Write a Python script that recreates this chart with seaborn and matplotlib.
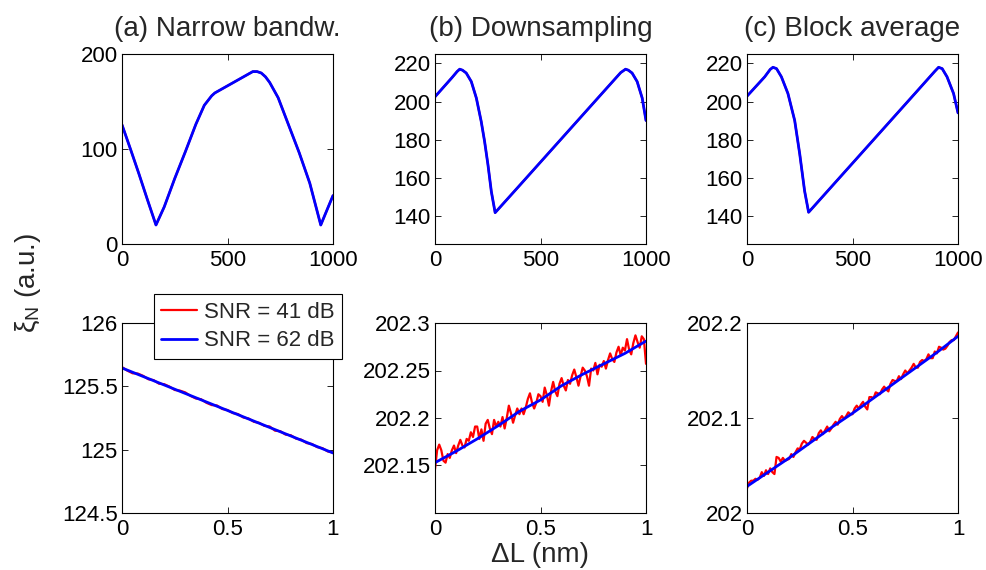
import numpy as np
import pandas as pd
import matplotlib
matplotlib.use("Agg")
import matplotlib.pyplot as plt
from matplotlib.ticker import FormatStrFormatter
import seaborn as sns

# ---- data ----
titles = ["(a) Narrow bandw.", "(b) Downsampling", "(c) Block average"]
legend_labels = ["SNR = 41 dB", "SNR = 62 dB"]

# top row: xi_N over the full range (both SNR curves overlap)
top_a_x = [0, 40, 80, 120, 161, 200, 250, 300, 350, 390, 425, 440, 480, 520, 560, 600, 620,
           640, 660, 680, 700, 740, 790, 840, 890, 942, 970, 1000]
top_a_y = [125.5, 100, 74, 47, 20, 39, 69, 97, 126, 146, 156, 159, 164, 169, 174, 179, 181.5,
           181.5, 180, 176, 170, 154, 125, 96, 64, 20, 35, 51]

top_b_x = [0, 80, 105, 117, 130, 148, 172, 196, 219, 235, 251, 267, 285, 400, 500, 600, 700,
           800, 880, 903, 916, 934, 958, 982, 1000]
top_b_y = [202.5, 212.5, 215.8, 217.0, 216.5, 215.0, 210.5, 201.8, 189.5, 179.0, 166.7, 152.6,
           141.5, 155.7, 168.1, 180.5, 192.9, 205.3, 215.2, 217.0, 216.5, 215.0, 210.5, 201.8, 190.0]

top_c_x = [0, 84, 110, 123, 140, 163, 194, 226, 250, 273, 292, 400, 500, 600, 700, 800, 890,
           908, 925, 948, 979, 1000]
top_c_y = [202.8, 213.0, 216.9, 218.0, 217.3, 213.0, 204.2, 190.0, 172.3, 152.9, 141.7, 155.1,
           167.5, 179.9, 192.3, 204.7, 215.9, 218.0, 217.3, 213.0, 204.2, 194.0]

# bottom row: zoom on 0..1 nm
blue_a_x = [0, 1]
blue_a_y = [125.645, 124.974]
red_a_x = np.linspace(0, 1, 41)
red_a_y = [125.652, 125.624, 125.603, 125.601, 125.583, 125.556, 125.549, 125.521, 125.517,
           125.498, 125.471, 125.466, 125.452, 125.424, 125.404, 125.398, 125.370, 125.352,
           125.349, 125.321, 125.313, 125.289, 125.281, 125.254, 125.246, 125.220, 125.212,
           125.188, 125.183, 125.150, 125.146, 125.119, 125.114, 125.087, 125.079, 125.052,
           125.045, 125.020, 125.012, 124.986, 124.978]

blue_b_x = [0, 0.1, 0.2, 0.3, 0.4, 0.5, 0.6, 0.7, 0.8, 0.9, 1.0]
blue_b_y = [202.153, 202.165, 202.178, 202.192, 202.207, 202.219, 202.234, 202.246, 202.257,
            202.268, 202.281]
red_b_x = np.linspace(0, 1, 101)
red_b_y = [202.146, 202.166, 202.172, 202.166, 202.155, 202.153, 202.162, 202.158, 202.166,
           202.171, 202.163, 202.171, 202.177, 202.171, 202.169, 202.178, 202.176, 202.185,
           202.180, 202.191, 202.191, 202.178, 202.188, 202.176, 202.194, 202.198, 202.189,
           202.183, 202.198, 202.191, 202.196, 202.191, 202.201, 202.189, 202.200, 202.213,
           202.205, 202.195, 202.203, 202.210, 202.204, 202.210, 202.204, 202.211, 202.220,
           202.226, 202.216, 202.210, 202.216, 202.225, 202.223, 202.217, 202.232, 202.224,
           202.213, 202.228, 202.238, 202.228, 202.223, 202.236, 202.242, 202.234, 202.229,
           202.240, 202.236, 202.245, 202.251, 202.243, 202.234, 202.244, 202.253, 202.250,
           202.244, 202.234, 202.252, 202.250, 202.258, 202.246, 202.256, 202.254, 202.260,
           202.252, 202.261, 202.268, 202.262, 202.259, 202.269, 202.275, 202.266, 202.274,
           202.271, 202.283, 202.272, 202.267, 202.279, 202.287, 202.280, 202.274, 202.286,
           202.283, 202.257]

blue_c_x = [0, 0.1, 0.2, 0.3, 0.4, 0.5, 0.6, 0.7, 0.8, 0.9, 1.0]
blue_c_y = [202.028, 202.043, 202.058, 202.074, 202.090, 202.105, 202.121, 202.137, 202.153,
            202.169, 202.186]
red_c_x = np.linspace(0, 1, 101)
red_c_y = [202.026, 202.032, 202.034, 202.034, 202.036, 202.035, 202.037, 202.043, 202.039,
           202.045, 202.041, 202.047, 202.043, 202.041, 202.059, 202.058, 202.054, 202.058,
           202.055, 202.056, 202.057, 202.062, 202.059, 202.064, 202.068, 202.067, 202.073,
           202.076, 202.074, 202.072, 202.075, 202.080, 202.078, 202.077, 202.084, 202.087,
           202.083, 202.087, 202.091, 202.086, 202.089, 202.093, 202.096, 202.093, 202.099,
           202.102, 202.099, 202.102, 202.106, 202.104, 202.104, 202.110, 202.113, 202.110,
           202.114, 202.117, 202.112, 202.109, 202.122, 202.122, 202.121, 202.127, 202.126,
           202.125, 202.130, 202.133, 202.130, 202.128, 202.136, 202.140, 202.139, 202.139,
           202.144, 202.141, 202.146, 202.150, 202.147, 202.150, 202.153, 202.157, 202.153,
           202.153, 202.159, 202.161, 202.160, 202.162, 202.167, 202.163, 202.163, 202.170,
           202.168, 202.175, 202.174, 202.172, 202.173, 202.176, 202.180, 202.182, 202.182,
           202.186, 202.190]

top_ylims = [(0, 200), (125, 225), (125, 225)]
top_yticks = [[0, 100, 200], [140, 160, 180, 200, 220], [140, 160, 180, 200, 220]]
bot_ylims = [(124.5, 126), (202.1, 202.3), (202, 202.2)]
bot_yticks = [[124.5, 125, 125.5, 126], [202.15, 202.2, 202.25, 202.3], [202, 202.1, 202.2]]

# ---- style ----
sns.set_style("ticks", {"xtick.direction": "in", "ytick.direction": "in"})
plt.rcParams["font.family"] = ["Liberation Sans", "DejaVu Sans"]
plt.rcParams["mathtext.fontset"] = "custom"
plt.rcParams["mathtext.rm"] = "Liberation Sans"
plt.rcParams["axes.linewidth"] = 0.8

RED = (1, 0, 0)
BLUE = (0, 0, 1)

fig = plt.figure(figsize=(9.86, 5.70), dpi=100)
W, H = 986, 570
lefts = [122, 435, 747]
aw = 211


def style_axes(ax, xlim, xticks, ylim, yticks):
    ax.set_xlim(*xlim)
    ax.set_ylim(*ylim)
    ax.set_xticks(xticks)
    ax.set_yticks(yticks)
    ax.xaxis.set_major_formatter(FormatStrFormatter("%g"))
    ax.yaxis.set_major_formatter(FormatStrFormatter("%g"))
    ax.tick_params(direction="in", top=True, right=True, length=4, width=0.6,
                   labelsize=16, colors="black")
    ax.tick_params(axis="x", pad=4)
    ax.tick_params(axis="y", pad=3)
    for s in ax.spines.values():
        s.set_visible(True)
        s.set_color("black")
    ax.set_xlabel("")
    ax.set_ylabel("")


tops = [(top_a_x, top_a_y), (top_b_x, top_b_y), (top_c_x, top_c_y)]
for i in range(3):
    ax = fig.add_axes([lefts[i] / W, (H - 244) / H, aw / W, 190 / H])
    tx, ty = tops[i]
    sns.lineplot(x=tx, y=ty, ax=ax, color=RED, linewidth=1.6, estimator=None, sort=False)
    sns.lineplot(x=tx, y=ty, ax=ax, color=BLUE, linewidth=2.0, estimator=None, sort=False)
    style_axes(ax, (0, 1000), [0, 500, 1000], top_ylims[i], top_yticks[i])
    ax.set_title(titles[i], fontsize=20, pad=13)

bots = [(red_a_x, red_a_y, blue_a_x, blue_a_y),
        (red_b_x, red_b_y, blue_b_x, blue_b_y),
        (red_c_x, red_c_y, blue_c_x, blue_c_y)]
for i in range(3):
    ax = fig.add_axes([lefts[i] / W, (H - 513) / H, aw / W, 190 / H])
    rx, ry, bx, by = bots[i]
    sns.lineplot(x=rx, y=ry, ax=ax, color=RED, linewidth=1.6, estimator=None, sort=False,
                 label=legend_labels[0])
    sns.lineplot(x=bx, y=by, ax=ax, color=BLUE, linewidth=2.0, estimator=None, sort=False,
                 label=legend_labels[1])
    style_axes(ax, (0, 1), [0, 0.5, 1], bot_ylims[i], bot_yticks[i])
    if i == 0:
        leg = ax.legend(loc="upper right", bbox_to_anchor=(1.043, 1.153), borderaxespad=0,
                        fontsize=16, frameon=True, fancybox=False, framealpha=1,
                        edgecolor="black", handlelength=1.6, handletextpad=0.3,
                        labelspacing=0.35, borderpad=0.35)
        leg.get_frame().set_linewidth(0.8)
    else:
        ax.get_legend().remove()

fig.text(28 / W, 1 - 283 / H, r"$\mathregular{\xi_N}$ (a.u.)", rotation=90,
         ha="center", va="center", fontsize=20)
fig.text(540 / W, 1 - 555 / H, "\u0394L (nm)", ha="center", va="center", fontsize=20)

fig.savefig("out.png", dpi=100)
